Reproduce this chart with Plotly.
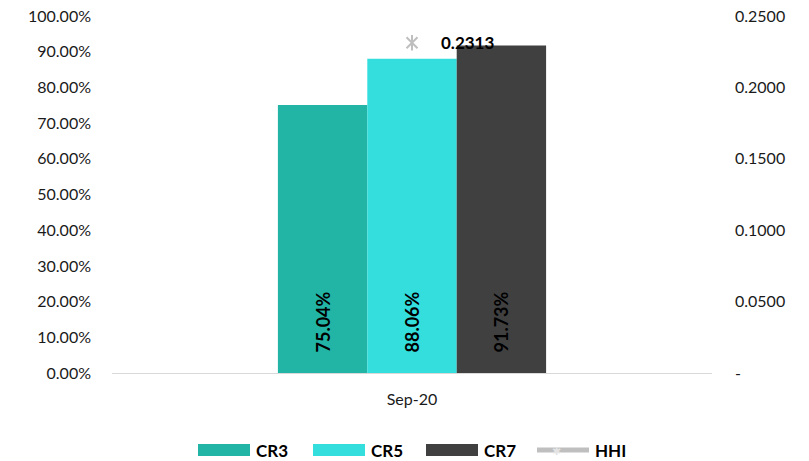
import plotly.graph_objects as go

# Concentration ratios and HHI for the period
categories = ["Sep-20"]
cr3 = [0.7504]
cr5 = [0.8806]
cr7 = [0.9173]
hhi = [0.2313]

series_names = ["CR3", "CR5", "CR7"]
series_values = [cr3, cr5, cr7]
series_colors = ["#22b5a6", "#33dedd", "#404040"]
hhi_color = "#bfbfbf"

left_ticks = [i / 10 for i in range(11)]
left_labels = [f"{v*100:.2f}%" for v in left_ticks]
right_ticks = [0, 0.05, 0.10, 0.15, 0.20, 0.25]
right_labels = ["-" if v == 0 else f"{v:.4f}" for v in right_ticks]

FONT = "Lato"
ML, MR, MT, MB = 112, 97, 16, 88
W, H = 809, 461

fig = go.Figure()
for name, vals, col in zip(series_names, series_values, series_colors):
    fig.add_trace(go.Bar(
        x=categories, y=vals, name=name, marker_color=col,
        marker_line_width=0,
        text=["\u00a0\u00a0\u00a0\u00a0" + f"{v*100:.2f}%" for v in vals],
        textposition="inside", insidetextanchor="start", textangle=-90,
        textfont=dict(family=FONT, size=18, color="black", weight="bold"),
        showlegend=False,
    ))

# HHI on secondary axis: six-pointed star drawn as an x plus a vertical stroke
for sym in ["x-thin-open", "line-ns-open"]:
    fig.add_trace(go.Scatter(
        x=categories, y=hhi, yaxis="y2", mode="markers", name="HHI",
        marker=dict(symbol=sym, size=11, color=hhi_color,
                    line=dict(color=hhi_color, width=2)),
        showlegend=False,
    ))

fig.add_annotation(
    x=categories[0], y=hhi[0], yref="y2", text=f"{hhi[0]:.4f}",
    showarrow=False, xanchor="left", yanchor="middle", xshift=27,
    font=dict(family=FONT, size=17, color="black", weight="bold"),
)

fig.update_layout(
    width=W, height=H,
    margin=dict(l=ML, r=MR, t=MT, b=MB, autoexpand=False),
    paper_bgcolor="white", plot_bgcolor="white",
    barmode="group", bargap=0.553, bargroupgap=0,
    font=dict(family=FONT, size=16, color="#1a1a1a"),
    xaxis=dict(
        showline=True, linecolor="#d9d9d9", linewidth=1.2, automargin=False,
        ticks="", showgrid=False, tickfont=dict(size=16), ticklabelstandoff=12,
    ),
    yaxis=dict(
        range=[0, 1], tickvals=left_ticks, ticktext=left_labels, automargin=False,
        showgrid=False, zeroline=False, ticks="", ticklabelstandoff=20,
    ),
    yaxis2=dict(
        range=[0, 0.25], tickvals=right_ticks, ticktext=right_labels, automargin=False,
        overlaying="y", side="right", showgrid=False, zeroline=False,
        ticks="", ticklabelstandoff=22,
    ),
)

# Legend row drawn below the axis (pixel positions converted to paper units)
plot_w = W - ML - MR
plot_h = H - MT - MB
def px_x(px):
    return (px - ML) / plot_w
def px_y(py):
    return (H - MB - py) / plot_h

legend_spots = [(198, "CR3", series_colors[0]), (313, "CR5", series_colors[1]),
                (426, "CR7", series_colors[2]), (537, "HHI", hhi_color)]
row_y = 450
for x0, label, col in legend_spots:
    if label == "HHI":
        fig.add_shape(type="line", xref="paper", yref="paper",
                      x0=px_x(x0), x1=px_x(x0 + 52),
                      y0=px_y(row_y), y1=px_y(row_y),
                      line=dict(color=col, width=5))
        fig.add_annotation(x=px_x(x0 + 26), y=px_y(row_y), xref="paper", yref="paper",
                           text="\u2731", showarrow=False, yanchor="middle",
                           font=dict(size=11, color="#e4e4e4"))
    else:
        fig.add_shape(type="rect", xref="paper", yref="paper",
                      x0=px_x(x0), x1=px_x(x0 + 52),
                      y0=px_y(row_y - 6), y1=px_y(row_y + 6),
                      fillcolor=col, line=dict(width=0))
    fig.add_annotation(x=px_x(x0 + 56), y=px_y(row_y), xref="paper", yref="paper",
                       text=label, showarrow=False, xanchor="left", yanchor="middle",
                       font=dict(family=FONT, size=17, color="black", weight="bold"))

fig.write_html("out.html")
